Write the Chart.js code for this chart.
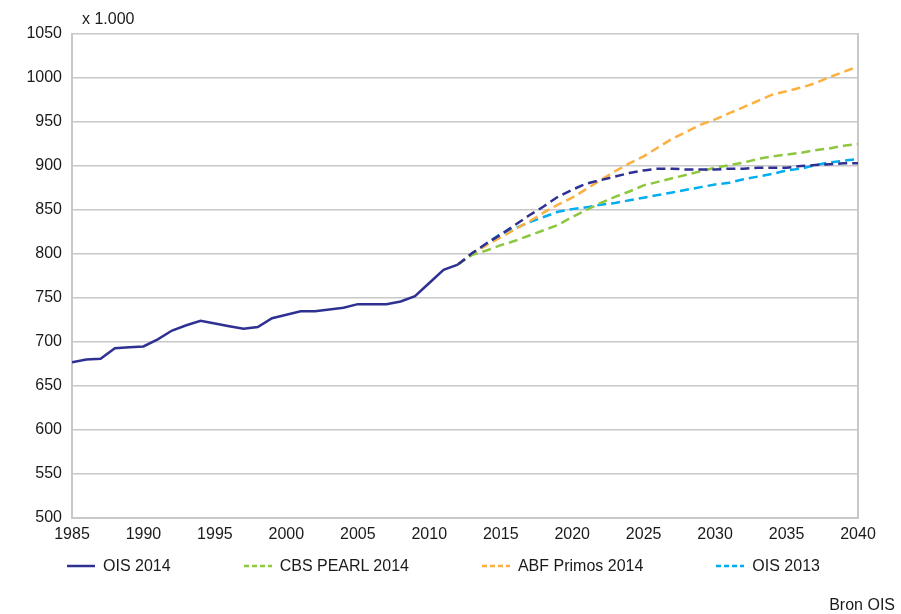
<!DOCTYPE html>
<html>
<head>
<meta charset="utf-8">
<script src="https://cdn.jsdelivr.net/npm/chart.js@4.4.1/dist/chart.umd.min.js"></script>
<style>
  body { margin: 0; background: #fff; }
  #wrap { position: relative; width: 901px; height: 614px; font-family: 'Liberation Sans', Arial, sans-serif; font-size: 16px; color: #1a1a1a; }
  #myChart { display: block; }
  #unit { position: absolute; left: 82px; top: 10px; line-height: 1.15; }
  #source { position: absolute; right: 6px; top: 596px; line-height: 1.15; }
  #legend { position: absolute; left: 0; top: 557px; width: 887px; display: flex; justify-content: center; gap: 73px; line-height: 1.15; }
  .item { display: flex; align-items: center; white-space: nowrap; }
  .item svg { margin-right: 8px; }
</style>
</head>
<body>
<div id="wrap">
  <canvas id="myChart" width="901" height="614"></canvas>
  <div id="unit">x 1.000</div>
  <div id="legend"></div>
  <div id="source">Bron OIS</div>
</div>
<script>
const histYears = [1985, 1986, 1987, 1988, 1989, 1990, 1991, 1992, 1993, 1994, 1995, 1996, 1997, 1998,
    1999, 2000, 2001, 2002, 2003, 2004, 2005, 2006, 2007, 2008, 2009, 2010, 2011, 2012];
const ois2014Hist = [677, 680, 681, 693, 694, 695, 703, 713, 719, 724, 721, 718, 715, 717,
    727, 731, 735, 735, 737, 739, 743, 743, 743, 746, 752, 767, 782, 788];

const projYears = [2012, 2013, 2014, 2015, 2016, 2017, 2018, 2019, 2020, 2021, 2022, 2023, 2024, 2025,
    2026, 2027, 2028, 2029, 2030, 2031, 2032, 2033, 2034, 2035, 2036, 2037, 2038, 2039, 2040];
const ois2014Proj = [788, 801, 812, 822, 833, 844, 854, 865, 873, 880, 884, 888, 892, 895,
    897, 897, 896, 896, 896, 897, 897, 898, 898, 898, 900, 901, 902, 903, 903];
const cbsPearl2014 = [788, 799, 804, 810, 815, 821, 827, 833, 842, 850, 858, 865, 871, 878,
    882, 886, 890, 894, 898, 901, 904, 908, 911, 913, 915, 918, 920, 923, 925];
const abfPrimos2014 = [788, 800, 810, 819, 828, 837, 847, 856, 864, 874, 884, 894, 903, 911,
    921, 931, 939, 947, 953, 960, 967, 974, 981, 985, 989, 994, 1001, 1007, 1013];
const ois2013 = [788, 800, 812, 823, 829, 836, 842, 848, 851, 853, 856, 858, 861, 864,
    867, 870, 873, 876, 879, 881, 885, 888, 891, 895, 897, 901, 904, 906, 908];

const xTicks = [1985, 1990, 1995, 2000, 2005, 2010, 2015, 2020, 2025, 2030, 2035, 2040];
const yTicks = [500, 550, 600, 650, 700, 750, 800, 850, 900, 950, 1000, 1050];

const navy = '#2e3192';
const green = '#8dc63f';
const orange = '#fbb040';
const cyan = '#00aeef';
const gridGrey = '#c8c8c8';
const dash = [9, 5];

const points = (years, values) => years.map((year, i) => ({ x: year, y: values[i] }));

const datasets = [
    { label: 'OIS 2014', data: points(histYears, ois2014Hist), borderColor: navy, borderWidth: 2.5, legend: true },
    { label: 'OIS 2014 prognose', data: points(projYears, ois2014Proj), borderColor: navy, borderWidth: 2.5, borderDash: dash, legend: false },
    { label: 'CBS PEARL 2014', data: points(projYears, cbsPearl2014), borderColor: green, borderWidth: 2.5, borderDash: dash, legend: true },
    { label: 'ABF Primos 2014', data: points(projYears, abfPrimos2014), borderColor: orange, borderWidth: 2.5, borderDash: dash, legend: true },
    { label: 'OIS 2013', data: points(projYears, ois2013), borderColor: cyan, borderWidth: 2.5, borderDash: dash, legend: true }
];

Chart.defaults.font.family = "'Liberation Sans', Arial, sans-serif";
Chart.defaults.font.size = 16;
Chart.defaults.color = '#1a1a1a';

const chart = new Chart(document.getElementById('myChart').getContext('2d'), {
    type: 'line',
    data: { datasets: datasets },
    options: {
        responsive: false,
        animation: false,
        devicePixelRatio: 1,
        layout: { padding: { top: 34, right: 0, bottom: 0, left: 0 } },
        elements: {
            point: { radius: 0 },
            line: { tension: 0, fill: false, borderCapStyle: 'butt' }
        },
        plugins: {
            legend: { display: false },
            tooltip: { enabled: false }
        },
        scales: {
            x: {
                type: 'linear',
                min: 1985,
                max: 2040,
                afterBuildTicks: (scale) => { scale.ticks = xTicks.map(v => ({ value: v })); },
                afterFit: (scale) => { scale.height = 96; },
                ticks: { padding: 7, maxRotation: 0, callback: (v) => String(v) },
                grid: { display: false, drawTicks: false },
                border: { display: true, color: gridGrey, width: 2 }
            },
            y: {
                min: 500,
                max: 1050,
                afterBuildTicks: (scale) => { scale.ticks = yTicks.map(v => ({ value: v })); },
                afterFit: (scale) => { scale.width = 72; },
                ticks: { padding: 10, callback: (v) => String(v) },
                grid: { color: gridGrey, lineWidth: 1.5, drawTicks: false },
                border: { display: true, color: gridGrey, width: 2 }
            },
            yRight: {
                position: 'right',
                min: 500,
                max: 1050,
                afterFit: (scale) => { scale.width = 43; },
                ticks: { display: false },
                grid: { display: false, drawTicks: false },
                border: { display: true, color: gridGrey, width: 2 }
            }
        }
    }
});

// legend in html, from the datasets
const legendEl = document.getElementById('legend');
chart.data.datasets.filter(ds => ds.legend).forEach(ds => {
    const item = document.createElement('div');
    item.className = 'item';
    const dashAttr = ds.borderDash ? ' stroke-dasharray="5 3"' : '';
    item.innerHTML = '<svg width="28" height="6"><line x1="0" y1="3" x2="28" y2="3" stroke="' + ds.borderColor +
        '" stroke-width="2.5"' + dashAttr + '/></svg><span>' + ds.label + '</span>';
    legendEl.appendChild(item);
});
</script>
</body>
</html>
